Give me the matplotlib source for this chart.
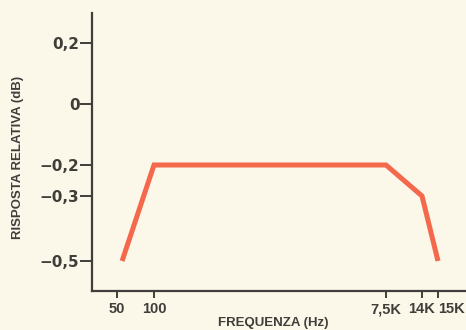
import numpy as np
import matplotlib
matplotlib.use("Agg")
import matplotlib.pyplot as plt

# ---- data ----
freq_hz = [55, 100, 7500, 14000, 15000]
response_db = [-0.5, -0.2, -0.2, -0.3, -0.5]
x_ticks = [50, 100, 7500, 14000, 15000]
x_tick_labels = ["50", "100", "7,5K", "14K", "15K"]
y_ticks = [0.2, 0.0, -0.2, -0.3, -0.5]
y_tick_labels = ["0,2", "0", "\u22120,2", "\u22120,3", "\u22120,5"]

# ---- schematic (non-uniform) axis scales of the original drawing ----
_xf = np.log10([25, 50, 100, 7500, 14000, 15000, 20000])
_xp = np.array([80, 117, 154, 386, 422, 438, 505], dtype=float)

def xfwd(f):
    f = np.clip(np.asarray(f, dtype=float), 1e-3, None)
    return np.interp(np.log10(f), _xf, _xp)

def xinv(p):
    return 10 ** np.interp(np.asarray(p, dtype=float), _xp, _xf)

_yv = np.array([-0.9, -0.5, -0.3, -0.2, 0.0, 0.2, 0.5])
_yp = np.array([-61, 69, 134, 165, 226, 287, 379], dtype=float)

def yfwd(v):
    return np.interp(np.asarray(v, dtype=float), _yv, _yp)

def yinv(p):
    return np.interp(np.asarray(p, dtype=float), _yp, _yv)

bg = "#fbf8ea"
ink = "#403e3a"
line_c = "#f4684c"

fig = plt.figure(figsize=(4.66, 3.30), dpi=100, facecolor=bg)
ax = fig.add_axes([92 / 466, 39 / 330, (466 - 92) / 466, (317 - 39) / 330])
ax.set_facecolor(bg)
ax.set_xscale("function", functions=(xfwd, xinv))
ax.set_yscale("function", functions=(yfwd, yinv))
ax.set_xlim(float(xinv(92)), float(xinv(466)))
ax.set_ylim(float(yinv(39)), float(yinv(317)))

ax.plot(freq_hz, response_db, color=line_c, lw=3.6, solid_joinstyle="miter",
        solid_capstyle="butt")

for s in ["top", "right"]:
    ax.spines[s].set_visible(False)
for s in ["left", "bottom"]:
    ax.spines[s].set_color(ink)
    ax.spines[s].set_linewidth(1.6)

ax.set_xticks(x_ticks)
ax.set_xticklabels(x_tick_labels)
ax.set_yticks(y_ticks)
ax.set_yticklabels(y_tick_labels)
ax.minorticks_off()
ax.tick_params(axis="y", length=9, width=1.4, color=ink, pad=0)
ax.tick_params(axis="x", length=5, width=1.4, color=ink, pad=3)
for lab in ax.get_yticklabels():
    lab.set_family("DejaVu Sans")
    lab.set_fontweight("bold")
    lab.set_fontsize(11)
    lab.set_color(ink)
xl = ax.get_xticklabels()
for lab in xl:
    lab.set_family("Liberation Sans")
    lab.set_fontweight("bold")
    lab.set_fontsize(10.5)
    lab.set_color(ink)
xl[-1].set_horizontalalignment("left")

fig.text(273 / 466, 1 - 323 / 330, "FREQUENZA (Hz)", ha="center", va="center",
         fontsize=9.5, fontweight="bold", family="Liberation Sans", color=ink)
fig.text(18 / 466, 1 - 157 / 330, "RISPOSTA RELATIVA (dB)", ha="center", va="center",
         rotation=90, fontsize=9.5, fontweight="bold", family="Liberation Sans", color=ink)

fig.savefig("out.png", dpi=100, facecolor=bg)
